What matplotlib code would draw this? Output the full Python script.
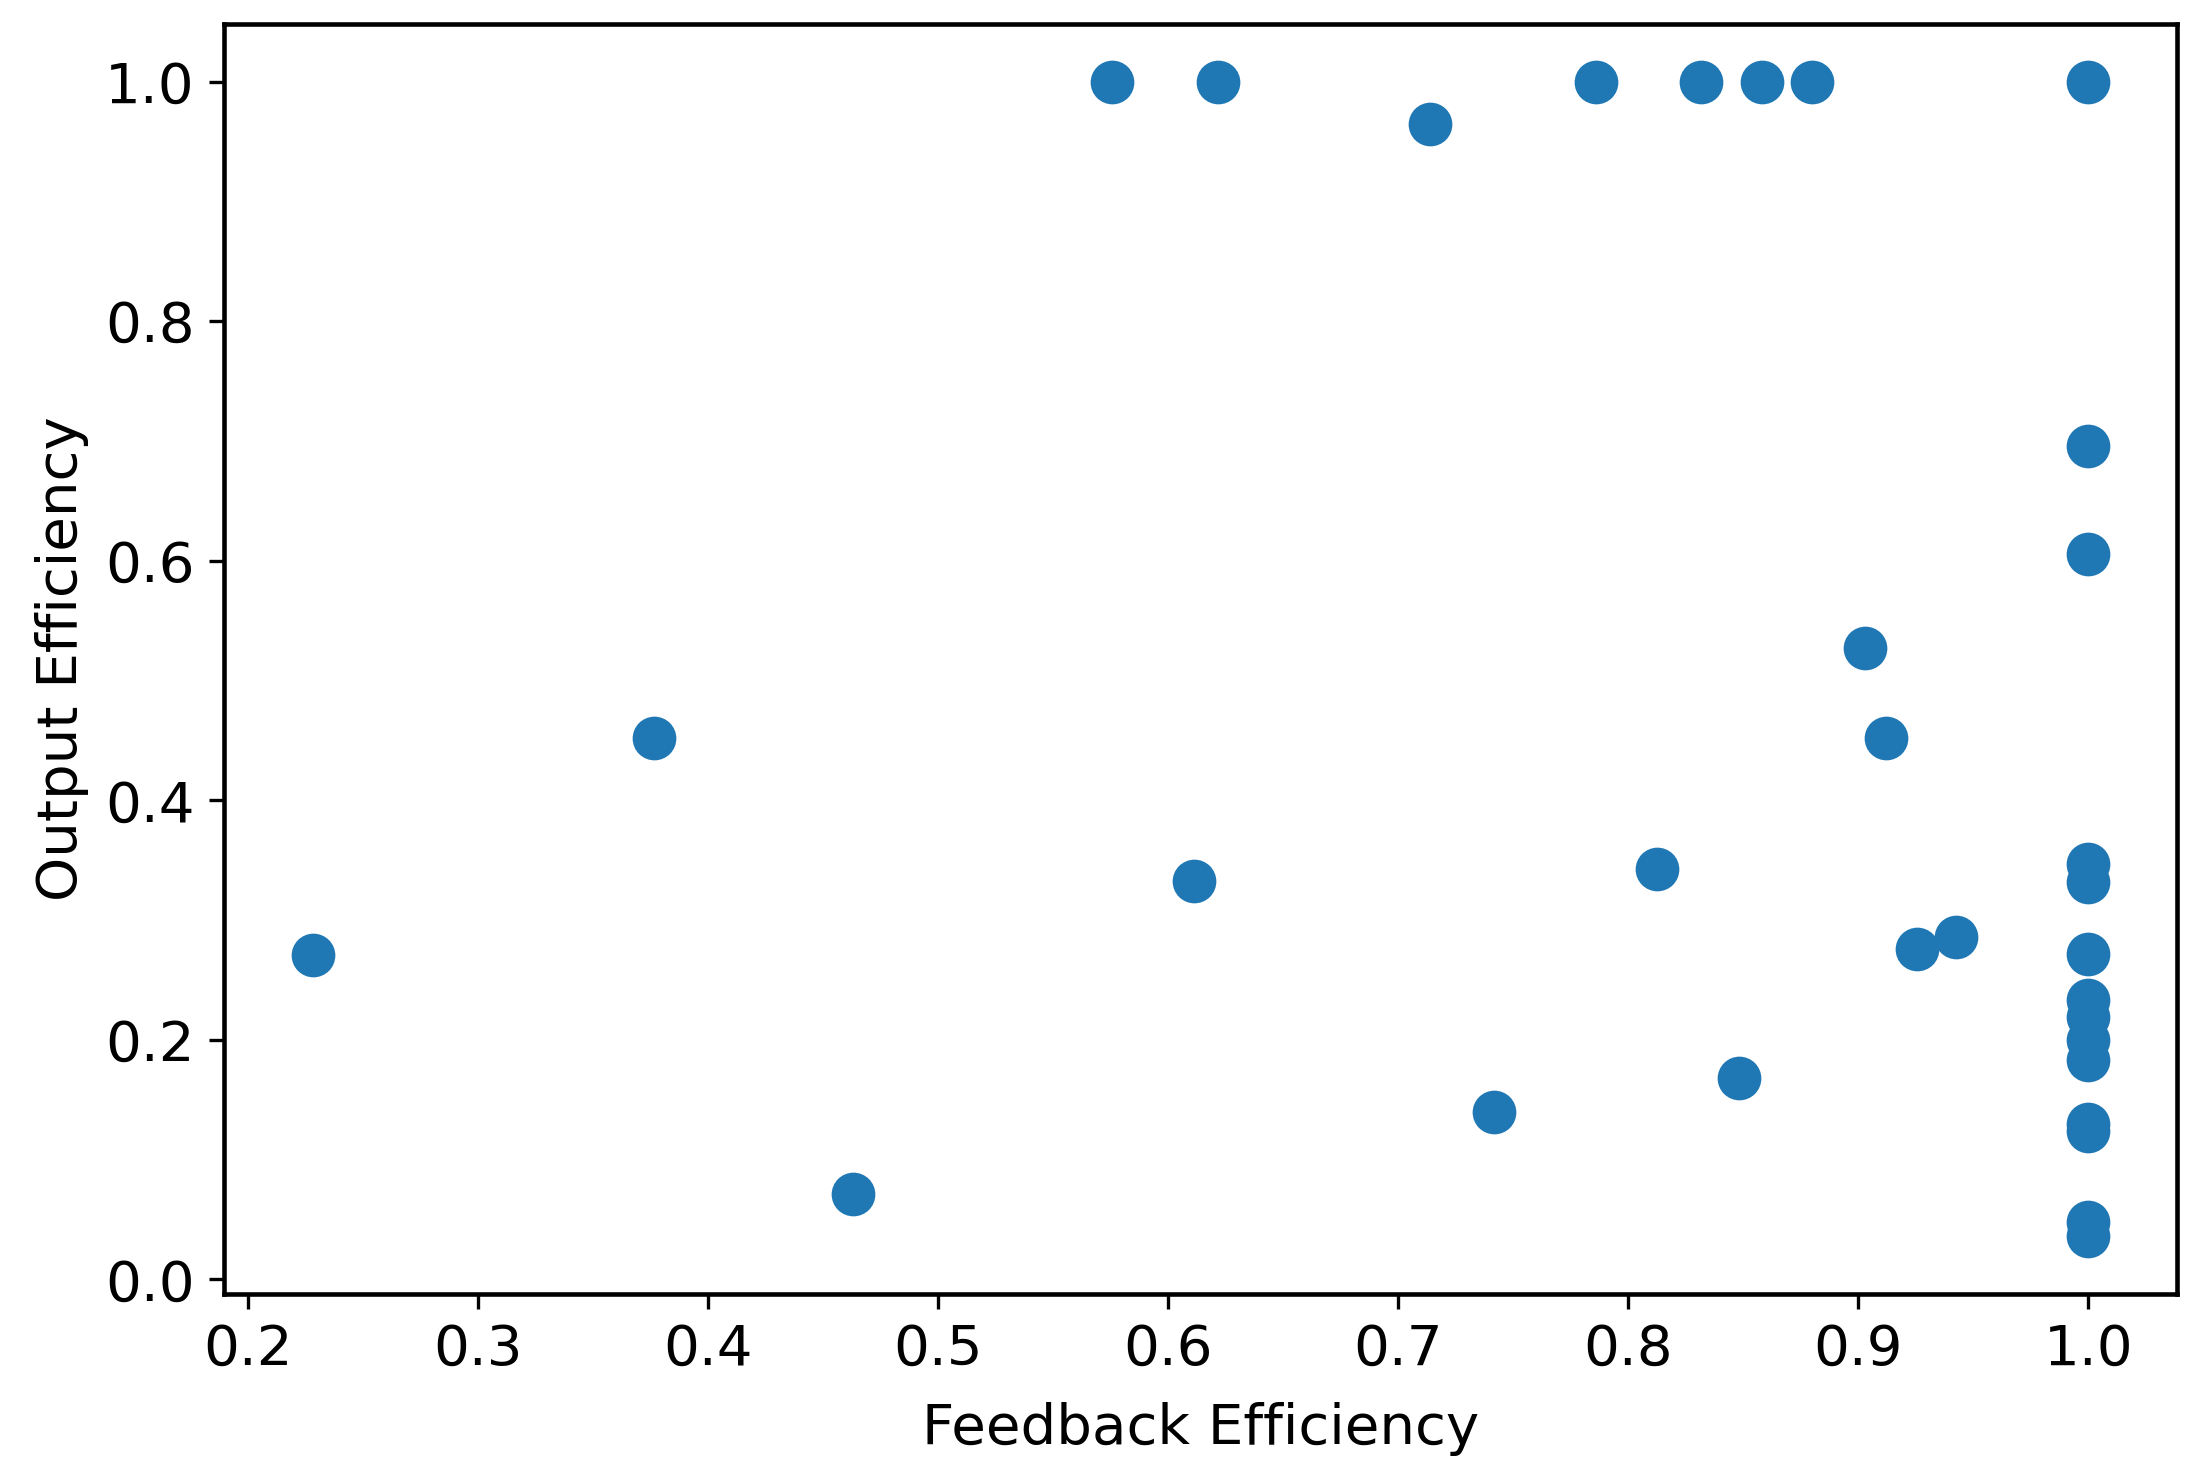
import matplotlib
matplotlib.use('Agg')
import matplotlib.pyplot as plt

# Feedback vs output efficiency, one point per case
feedback_eff = [0.228, 0.3765, 0.463, 0.5756, 0.6214, 0.611, 0.714, 0.7417,
                0.786, 0.8125, 0.8315, 0.848, 0.8583, 0.880, 0.903, 0.912,
                0.9255, 0.9426,
                1.0, 1.0, 1.0, 1.0, 1.0, 1.0, 1.0, 1.0, 1.0, 1.0, 1.0, 1.0,
                1.0, 1.0]
output_eff = [0.271, 0.452, 0.0716, 1.0, 1.0, 0.333, 0.965, 0.1397,
              1.0, 0.343, 1.0, 0.168, 1.0, 1.0, 0.527, 0.452,
              0.276, 0.286,
              1.0, 0.696, 0.6056, 0.347, 0.332, 0.272, 0.233, 0.219, 0.200,
              0.183, 0.130, 0.124, 0.048, 0.036]

plt.rcParams['font.family'] = ['DejaVu Sans']
plt.rcParams['font.size'] = 13.5
plt.rcParams['axes.linewidth'] = 1.1

fig, ax = plt.subplots(figsize=(7.35, 4.94), dpi=300)
ax.scatter(feedback_eff, output_eff, s=110, color='#1f77b4', linewidths=0)
ax.set_xlabel('Feedback Efficiency', labelpad=6)
ax.set_ylabel('Output Efficiency')

fig.subplots_adjust(left=224 / 2205, right=2177 / 2205,
                    top=1 - 24 / 1482, bottom=1 - 1294 / 1482)

fig.savefig('out.png')
